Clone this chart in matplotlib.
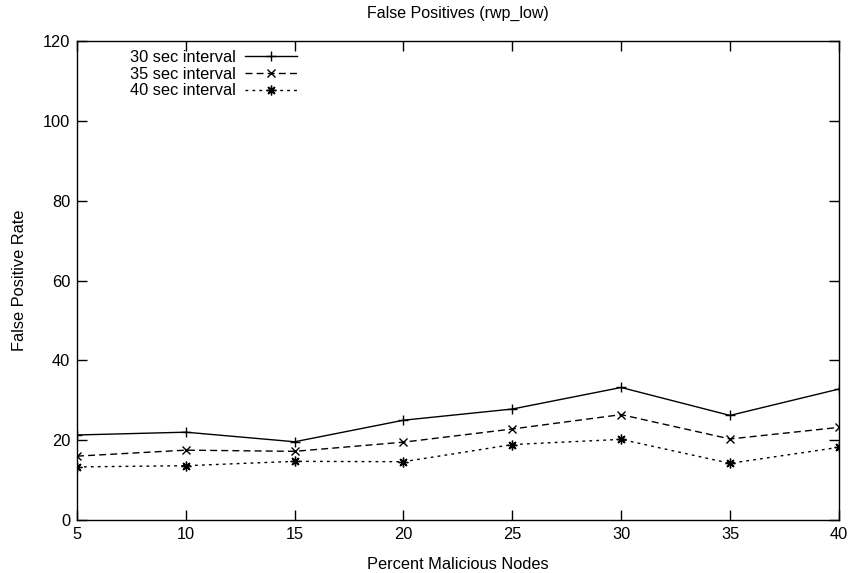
import matplotlib.pyplot as plt

plt.rcParams['font.family'] = ['Liberation Sans', 'DejaVu Sans']

# percent malicious nodes
x = [5, 10, 15, 20, 25, 30, 35, 40]

# false positive rates per interval
fp_30 = [21.3, 22.0, 19.6, 25.0, 27.8, 33.2, 26.2, 32.8]
fp_35 = [16.0, 17.5, 17.2, 19.5, 22.8, 26.4, 20.3, 23.2]
fp_40 = [13.3, 13.6, 14.7, 14.6, 18.9, 20.2, 14.2, 18.2]

labels = ["30 sec interval", "35 sec interval", "40 sec interval"]

fs = 11.8

fig = plt.figure(figsize=(8.49, 5.73), dpi=100)
ax = fig.add_axes([0.0907, 0.0925, 0.8973, 0.8359])

ax.plot(x, fp_30, color='black', lw=1, marker='+', ms=7, mew=1, label=labels[0])
ax.plot(x, fp_35, color='black', lw=1, ls=(0, (5, 3)), marker='x', ms=6, mew=1, label=labels[1])
ax.plot(x, fp_40, color='black', lw=1, ls=(0, (2, 3)), marker=(8, 2, 0), ms=7, mew=1, label=labels[2])

ax.set_xlim(5, 40)
ax.set_ylim(0, 120)
ax.set_xticks(x)
ax.set_yticks([0, 20, 40, 60, 80, 100, 120])
ax.tick_params(direction='in', length=7, width=1, top=True, right=True, labelsize=fs, pad=5)
for s in ax.spines.values():
    s.set_linewidth(1)

ax.set_title("False Positives (rwp_low)", fontsize=11.5, pad=17)
ax.set_xlabel("Percent Malicious Nodes", fontsize=fs, labelpad=11)
ax.set_ylabel("False Positive Rate", fontsize=fs, labelpad=11)

leg = ax.legend(loc='upper right', bbox_to_anchor=(297 / 849, 1 - 50 / 573),
                bbox_transform=fig.transFigure, frameon=False, markerfirst=False,
                fontsize=fs, handlelength=3.2, labelspacing=0.1, handletextpad=0.5,
                borderpad=0, borderaxespad=0)
for t in leg.get_texts():
    t.set_ha('right')

fig.savefig("out.png", dpi=100)
